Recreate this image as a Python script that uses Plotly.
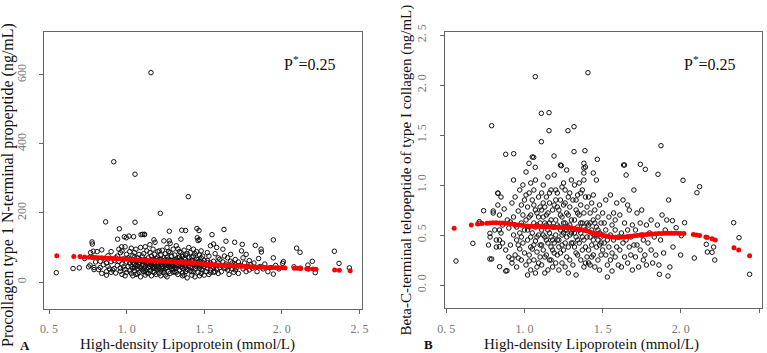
import plotly.graph_objects as go

# ---------------- data ----------------
# Panel A: HDL (mmol/L) vs PINP (ng/mL), as (hdl, pinp) pairs
points_a = [
    (0.78,72),(0.79,42),(0.79,36),(0.80,58),(0.81,88),(0.82,36),(0.83,42),(0.83,60),(0.84,93),(0.84,25),
    (0.85,50),(0.86,66),(0.87,20),(0.87,30),(0.87,55),(0.88,45),(0.88,76),(0.89,38),(0.90,88),(0.90,59),(0.90,28),
    (0.91,35),(0.92,39),(0.93,26),(0.93,70),(0.94,48),(0.95,60),(0.95,95),(0.96,85),(0.96,31),(0.97,52),(0.97,22),
    (0.98,67),(0.98,44),(0.99,102),(0.99,36),(1.00,58),(1.00,80),(1.00,28),(0.985,131),(0.998,128),(0.96,40),
    (0.94,75),(0.92,62),(0.99,18),(0.97,90),
    (1.01,45),(1.01,70),(1.02,32),(1.02,88),(1.02,55),(1.03,25),(1.03,63),(1.03,98),(1.04,40),(1.04,76),(1.04,18),
    (1.05,52),(1.05,85),(1.05,33),(1.06,60),(1.06,95),(1.06,22),(1.07,47),(1.07,70),(1.07,38),(1.08,56),(1.08,80),
    (1.08,28),(1.09,42),(1.09,65),(1.09,100),(1.09,15),(1.10,50),(1.10,75),(1.10,35),(1.015,133),(1.103,138),
    (1.116,138),(1.06,48),(1.04,57),(1.02,66),(1.08,44),(1.05,72),(1.07,24),(1.03,46),
    (1.11,58),(1.11,30),(1.11,82),(1.12,45),(1.12,65),(1.12,20),(1.13,52),(1.13,90),(1.13,36),(1.14,70),(1.14,42),
    (1.14,25),(1.15,60),(1.15,85),(1.15,33),(1.16,48),(1.16,75),(1.16,18),(1.17,55),(1.17,95),(1.17,40),(1.18,62),
    (1.18,28),(1.18,80),(1.19,46),(1.19,68),(1.19,22),(1.20,54),(1.20,88),(1.20,36),(1.176,122),(1.183,115),
    (1.12,102),(1.15,44),(1.17,66),(1.13,58),(1.19,38),(1.11,50),(1.14,56),(1.16,62),(1.18,50),(1.20,72),(1.13,26),
    (1.17,30),(1.15,108),
    (1.21,40),(1.21,65),(1.21,25),(1.22,52),(1.22,78),(1.22,32),(1.23,60),(1.23,92),(1.23,45),(1.24,119),(1.24,35),
    (1.24,70),(1.25,50),(1.25,82),(1.25,20),(1.26,58),(1.26,42),(1.26,100),(1.27,66),(1.27,30),(1.27,48),(1.28,112),
    (1.28,55),(1.28,85),(1.28,25),(1.29,62),(1.29,38),(1.29,75),(1.30,46),(1.30,95),(1.30,28),(1.275,119),(1.275,147),
    (1.22,58),(1.24,56),(1.26,72),(1.23,38),(1.25,64),(1.27,88),(1.29,50),(1.21,90),(1.30,58),(1.22,18),(1.26,15),
    (1.28,44),
    (1.31,52),(1.31,78),(1.31,30),(1.32,60),(1.32,40),(1.32,105),(1.33,48),(1.33,70),(1.33,22),(1.34,56),(1.34,88),
    (1.34,35),(1.35,64),(1.35,44),(1.35,124),(1.36,50),(1.36,75),(1.36,26),(1.37,58),(1.37,92),(1.37,38),(1.38,66),
    (1.38,149),(1.38,30),(1.39,54),(1.39,82),(1.39,12),(1.40,46),(1.40,70),(1.40,100),(1.355,150),(1.36,18),(1.32,66),
    (1.34,48),(1.38,42),(1.40,60),(1.33,96),(1.37,20),(1.31,42),(1.39,36),(1.35,85),(1.36,56),(1.38,78),(1.34,72),
    (1.32,28),
    (1.41,55),(1.41,85),(1.41,32),(1.42,62),(1.42,42),(1.42,20),(1.43,50),(1.43,75),(1.43,95),(1.44,58),(1.44,38),
    (1.44,15),(1.45,66),(1.45,45),(1.45,88),(1.46,52),(1.46,28),(1.46,120),(1.47,60),(1.47,40),(1.47,78),(1.48,48),
    (1.48,25),(1.48,70),(1.49,56),(1.49,35),(1.50,62),(1.50,44),(1.50,20),(1.453,155),(1.466,149),(1.468,123),
    (1.455,128),(1.42,72),(1.44,82),(1.46,65),(1.48,90),(1.43,30),(1.47,18),(1.49,75),
    (1.51,50),(1.51,30),(1.52,62),(1.52,40),(1.53,75),(1.53,22),(1.54,55),(1.54,35),(1.55,45),(1.55,137),(1.56,60),
    (1.56,28),(1.57,48),(1.57,82),(1.58,38),(1.58,100),(1.59,55),(1.59,25),(1.60,42),(1.60,66),(1.52,85),(1.54,105),
    (1.57,30),(1.59,70),(1.56,110),
    (1.61,48),(1.61,30),(1.62,58),(1.627,152),(1.63,40),(1.63,75),(1.64,52),(1.64,118),(1.65,35),(1.65,70),(1.66,45),
    (1.66,22),(1.67,60),(1.67,80),(1.68,38),(1.68,55),(1.69,28),(1.69,46),(1.70,65),(1.70,35),(1.696,115),(1.62,95),
    (1.71,42),(1.72,58),(1.72,25),(1.73,48),(1.74,90),(1.745,109),(1.75,38),(1.75,70),(1.76,55),(1.77,30),(1.77,80),
    (1.78,45),(1.79,35),(1.79,62),(1.80,50),
    (1.81,40),(1.82,55),(1.829,106),(1.84,30),(1.85,68),(1.86,45),(1.866,95),(1.868,87),(1.88,38),(1.89,52),(1.91,30),
    (1.93,42),(1.945,70),(1.945,122),(1.945,23),(1.96,48),(1.98,38),(2.005,54),(2.01,59),
    (1.157,606),(0.917,348),(1.054,312),(1.397,247),(1.217,199),(0.865,174),(1.054,173),(0.953,154),(0.942,124),
    (1.045,131),(1.093,137),(1.114,137),(0.777,116),(0.779,110),(0.968,102),(0.547,27),(0.655,39),(0.695,41),
    (0.73,68),(0.755,44),(0.764,49),(0.768,85),(0.785,89),(2.078,44),(2.095,98),(2.117,86),(2.168,49),(2.196,60),
    (2.215,27),(2.338,89),(2.368,54),(2.435,41),(2.12,40),(2.17,38),
    (1.05,42),(1.08,62),(1.11,38),(1.14,50),(1.17,44),(1.20,46),(1.23,52),(1.26,48),(1.29,44),(1.32,48),
    (1.35,52),(1.38,50),(1.41,44),(1.44,50),(1.47,46),(1.50,52),(1.53,48),(1.56,42),(1.12,32),(1.18,40),
    (1.24,28),(1.30,36),(1.36,40),(1.42,30),(1.48,36),(1.54,28),(1.10,60),(1.16,56),(1.22,66),(1.28,62),
    (1.34,62),(1.40,54),(1.46,58),(1.52,56),(1.58,48),(1.64,40),(1.70,50),(1.25,40),(1.31,64),(1.37,68),
]

# Panel B: HDL (mmol/L) vs beta-CTX (ng/mL), as (hdl, ctx) pairs
points_b = [
    (0.77,0.40),(0.78,0.48),(0.79,0.26),(0.80,0.74),(0.80,0.72),(0.81,0.55),(0.82,0.45),(0.82,0.38),(0.83,0.92),
    (0.83,0.80),(0.84,0.70),(0.84,0.55),(0.85,0.88),(0.85,0.52),(0.86,0.60),(0.86,0.42),(0.87,0.76),(0.88,0.35),
    (0.88,0.14),(0.89,0.65),(0.90,0.28),(0.90,0.57),
    (0.91,0.63),(0.91,0.40),(0.92,0.82),(0.92,0.22),(0.93,0.50),(0.93,0.68),(0.93,1.05),(0.94,0.30),(0.94,0.88),
    (0.95,0.45),(0.95,0.18),(0.95,0.58),(0.96,0.74),(0.96,0.27),(0.97,0.52),(0.97,0.95),(0.97,0.36),(0.98,0.62),
    (0.98,0.25),(0.98,0.80),(0.99,0.42),(0.99,0.70),(0.99,1.00),(1.00,0.55),(1.00,0.32),(1.00,0.85),(0.96,0.40),
    (0.94,0.60),(0.98,0.48),(0.92,0.26),
    (1.01,0.65),(1.01,0.20),(1.01,1.13),(1.02,0.45),(1.02,0.78),(1.02,0.10),(1.03,0.58),(1.03,0.92),(1.03,0.30),
    (1.04,0.38),(1.04,0.70),(1.04,0.15),(1.05,0.52),(1.05,0.85),(1.05,1.28),(1.06,0.62),(1.06,0.25),(1.06,0.95),
    (1.07,0.44),(1.07,0.75),(1.07,1.05),(1.08,0.33),(1.08,0.60),(1.08,0.18),(1.09,0.50),(1.09,0.88),(1.09,0.68),
    (1.10,0.40),(1.10,0.28),(1.10,0.78),(1.02,0.55),(1.04,0.48),(1.06,0.40),(1.08,0.72),(1.03,0.24),(1.05,0.36),
    (1.07,0.58),(1.09,0.22),(1.01,0.90),(1.06,0.80),(1.04,1.02),(1.08,0.48),(1.10,0.62),(1.03,0.68),(1.07,0.12),
    (1.11,0.55),(1.11,0.92),(1.11,0.20),(1.12,0.68),(1.12,0.35),(1.12,1.00),(1.13,0.48),(1.13,0.78),(1.13,0.12),
    (1.14,0.60),(1.14,0.30),(1.14,0.88),(1.15,0.42),(1.15,0.72),(1.15,1.08),(1.16,0.52),(1.16,0.25),(1.16,0.82),
    (1.17,0.65),(1.17,0.38),(1.17,0.95),(1.18,0.45),(1.18,0.18),(1.18,0.75),(1.19,0.58),(1.19,0.32),(1.19,1.10),
    (1.20,0.50),(1.20,0.85),(1.20,0.22),(1.12,0.50),(1.14,0.45),(1.16,0.62),(1.18,0.58),(1.13,0.28),(1.15,0.55),
    (1.17,0.48),(1.19,0.80),(1.11,0.40),(1.16,0.92),(1.14,0.70),(1.12,0.82),(1.18,0.35),(1.20,0.65),(1.15,0.15),
    (1.17,0.25),(1.13,0.62),(1.19,0.42),(1.11,0.75),(1.20,0.95),
    (1.21,0.60),(1.21,0.30),(1.21,0.92),(1.22,0.45),(1.22,0.75),(1.22,0.15),(1.23,0.55),(1.23,0.85),(1.23,1.20),
    (1.24,0.40),(1.24,0.68),(1.24,0.22),(1.25,0.52),(1.25,0.80),(1.25,0.35),(1.26,0.62),(1.26,0.18),(1.26,0.95),
    (1.27,0.48),(1.27,0.72),(1.27,1.15),(1.28,0.38),(1.28,0.58),(1.28,0.88),(1.29,0.50),(1.29,0.25),(1.29,0.78),
    (1.30,0.42),(1.30,0.65),(1.30,1.05),(1.22,0.58),(1.24,0.50),(1.26,0.42),(1.28,0.70),(1.23,0.32),(1.25,0.62),
    (1.27,0.28),(1.29,0.60),(1.21,0.78),(1.26,0.82),(1.24,0.98),(1.28,0.12),(1.30,0.52),(1.22,0.38),(1.25,1.02),
    (1.27,0.55),(1.23,0.70),(1.29,0.92),(1.26,0.55),(1.21,0.45),
    (1.31,0.55),(1.31,0.85),(1.31,0.20),(1.32,0.65),(1.32,0.38),(1.32,1.00),(1.33,0.48),(1.33,0.75),(1.33,0.10),
    (1.34,0.58),(1.34,0.30),(1.34,0.90),(1.35,0.42),(1.35,0.70),(1.35,1.02),(1.36,0.52),(1.36,0.25),(1.36,0.80),
    (1.37,0.62),(1.37,0.35),(1.37,0.95),(1.38,0.45),(1.38,0.18),(1.38,0.72),(1.39,0.55),(1.39,0.88),(1.39,1.18),
    (1.40,0.48),(1.40,0.28),(1.40,0.78),(1.32,0.52),(1.34,0.45),(1.36,0.62),(1.38,0.58),(1.33,0.32),(1.35,0.55),
    (1.37,0.48),(1.39,0.38),(1.31,0.42),(1.36,0.92),(1.38,1.05),(1.34,0.72),(1.40,0.62),(1.33,0.85),(1.39,0.22),
    (1.41,0.60),(1.41,0.35),(1.41,0.88),(1.42,0.48),(1.42,0.72),(1.42,0.20),(1.43,0.55),(1.43,0.82),(1.43,0.40),
    (1.44,0.65),(1.44,0.30),(1.44,1.12),(1.45,0.50),(1.45,0.75),(1.45,0.18),(1.46,0.58),(1.46,0.38),(1.46,1.05),
    (1.47,0.45),(1.47,0.68),(1.47,0.25),(1.48,0.52),(1.48,0.80),(1.48,0.15),(1.49,0.42),(1.49,0.62),(1.49,0.30),
    (1.50,0.50),(1.50,0.35),(1.50,0.72),(1.42,0.62),(1.44,0.45),(1.46,0.50),(1.48,0.40),(1.43,0.28),(1.45,0.62),
    (1.47,0.55),(1.49,0.48),(1.41,0.22),(1.44,0.90),
    (1.51,0.42),(1.51,0.62),(1.52,0.30),(1.52,0.55),(1.53,0.20),(1.53,0.45),(1.53,0.08),(1.54,0.68),(1.54,0.38),
    (1.55,0.50),(1.55,0.25),(1.55,0.90),(1.56,0.60),(1.56,0.32),(1.57,0.45),(1.57,0.72),(1.58,0.28),(1.58,0.55),
    (1.59,0.38),(1.59,0.82),(1.60,0.48),(1.60,0.20),(1.52,0.85),(1.56,0.14),(1.58,0.65),
    (1.61,0.35),(1.61,0.70),(1.62,0.52),(1.62,0.18),(1.63,0.42),(1.63,0.85),(1.64,0.62),(1.64,0.28),(1.65,0.45),
    (1.65,1.10),(1.66,0.55),(1.66,0.22),(1.67,0.38),(1.67,0.75),(1.68,0.48),(1.68,0.30),(1.69,0.60),(1.69,0.15),
    (1.70,0.40),(1.70,0.95),(1.64,1.20),(1.66,0.80),
    (1.71,0.55),(1.71,0.28),(1.72,0.72),(1.72,0.40),(1.73,0.18),(1.74,0.62),(1.74,0.35),(1.75,0.50),(1.75,0.75),
    (1.76,0.25),(1.76,0.45),(1.77,0.30),(1.78,0.60),(1.78,0.20),(1.79,0.42),(1.80,0.52),(1.741,1.207),(1.773,1.157),
    (1.81,0.35),(1.81,0.65),(1.82,0.22),(1.83,0.48),(1.84,0.30),(1.85,0.60),(1.854,1.107),(1.86,0.20),(1.863,0.107),
    (1.87,0.45),(1.873,1.393),(1.88,0.70),(1.89,0.32),(1.90,0.55),(1.91,0.65),(1.918,0.09),(1.922,0.85),(1.93,0.18),
    (1.946,0.643),(1.95,0.38),(1.97,0.573),(1.999,0.30),(2.003,0.493),(2.014,1.047),(2.024,0.623),
    (1.069,2.083),(1.406,2.123),(1.108,1.717),(1.157,1.723),(0.79,1.593),(1.157,1.543),(1.278,1.543),(1.317,1.583),
    (1.108,1.433),(0.88,1.307),(0.931,1.313),(1.317,1.333),(1.387,1.343),(1.189,1.29),(1.059,1.277),(1.029,1.217),
    (1.069,1.177),(1.38,1.217),(1.38,1.17),(1.38,1.12),(1.466,1.257),(1.236,1.193),(1.634,1.2),(2.086,0.27),
    (2.103,0.923),(2.12,0.983),(2.163,0.407),(2.17,0.33),(2.2,0.327),(2.217,0.25),(2.21,0.38),(2.338,0.623),
    (2.372,0.473),(2.44,0.107),(0.562,0.24),(0.67,0.417),(0.711,0.633),(0.711,0.617),(0.739,0.743),(0.779,0.517),
    (0.779,0.26),(0.83,0.917),(0.841,0.183),(0.888,0.143),(0.84,0.383),(0.84,0.45),
]

# Smoothed fit (red dots)
smooth_x = [0.55,0.66,0.70,0.73,
            0.76,0.78,0.80,0.82,0.84,0.86,0.88,0.90,0.92,0.94,0.96,0.98,1.00,1.02,1.04,1.06,1.08,1.10,
            1.12,1.14,1.16,1.18,1.20,1.22,1.24,1.26,1.28,1.30,1.32,1.34,1.36,1.38,1.40,1.42,1.44,1.46,
            1.48,1.50,1.52,1.54,1.56,1.58,1.60,1.62,1.64,1.66,1.68,1.70,1.72,1.74,1.76,1.78,1.80,1.82,
            1.84,1.86,1.88,1.90,1.92,1.94,1.96,1.98,2.00,2.02,
            2.08,2.10,2.12,2.16,2.17,2.20,2.22,2.34,2.37,2.44]
smooth_a = [76,74,73.5,72.5,
            72,71.5,71,70.5,70,69.5,69,68.5,68,67.5,67,66.5,66,65.5,65,64.5,64,63.5,
            63,62.5,62,61.5,61,60.5,60,59.5,59,58.5,58,57.5,57,56.5,56,55.5,55,54,
            53,52,51,50.5,50,49.5,49,48.5,48,47.5,47,46.5,46,45.5,45,44.5,44,43.5,
            43,42.8,42.5,42.2,42,41.8,41.5,41.2,41,40.8,
            40,39.5,39,38.5,38,37.5,37,34.5,34,32.5]
smooth_b = [0.567,0.600,0.610,0.615,
            0.618,0.620,0.622,0.622,0.621,0.620,0.618,0.615,0.611,0.606,0.601,0.597,0.593,0.590,0.588,0.586,0.584,0.583,
            0.582,0.581,0.580,0.579,0.578,0.577,0.576,0.574,0.572,0.569,0.565,0.560,0.554,0.547,0.539,0.530,0.521,0.512,
            0.504,0.497,0.490,0.484,0.480,0.477,0.476,0.477,0.480,0.484,0.488,0.492,0.496,0.499,0.502,0.505,0.508,0.510,
            0.512,0.514,0.516,0.517,0.518,0.518,0.518,0.517,0.516,0.514,
            0.505,0.500,0.495,0.480,0.475,0.462,0.450,0.373,0.350,0.293]

x_ticks = [0.5, 1.0, 1.5, 2.0, 2.5]
x_tick_text = ["0.\u00a05", "1.\u00a00", "1.\u00a05", "2.\u00a00", "2.\u00a05"]
ya_ticks = [0, 200, 400, 600]
ya_tick_text = ["0", "200", "400", "600"]
yb_ticks = [0.0, 0.5, 1.0, 1.5, 2.0, 2.5]
yb_tick_text = ["0.\u00a00", "0.\u00a05", "1.\u00a00", "1.\u00a05", "2.\u00a00", "2.\u00a05"]

# ---------------- figure ----------------
W, H = 767, 353
SERIF = "Liberation Serif"

def fx(p):
    return p / W

def fy(p):
    return 1 - p / H

hdl_a = [p[0] for p in points_a]
pinp_a = [p[1] for p in points_a]
hdl_b = [p[0] for p in points_b]
ctx_b = [p[1] for p in points_b]

fig = go.Figure()
open_marker = dict(symbol="circle-open", size=4.5, color="#111111", line=dict(width=1, color="#111111"))
red_marker = dict(symbol="circle", size=5, color="#ff0000", line=dict(width=0))

fig.add_trace(go.Scatter(x=hdl_a, y=pinp_a, mode="markers", marker=open_marker, xaxis="x", yaxis="y"))
fig.add_trace(go.Scatter(x=smooth_x, y=smooth_a, mode="markers", marker=red_marker, xaxis="x", yaxis="y"))
fig.add_trace(go.Scatter(x=hdl_b, y=ctx_b, mode="markers", marker=open_marker, xaxis="x2", yaxis="y2"))
fig.add_trace(go.Scatter(x=smooth_x, y=smooth_b, mode="markers", marker=red_marker, xaxis="x2", yaxis="y2"))

axis_common = dict(
    showgrid=False, zeroline=False, showline=True, mirror=True,
    linecolor="#666666", linewidth=1, ticks="outside", ticklen=4,
    tickcolor="#666666", tickfont=dict(family=SERIF, size=12, color="#777777"),
    automargin=False, fixedrange=True,
)

fig.update_layout(
    width=W, height=H,
    margin=dict(l=0, r=0, t=0, b=0),
    paper_bgcolor="white", plot_bgcolor="white",
    showlegend=False,
    font=dict(family=SERIF),
    xaxis=dict(domain=[fx(44.3), fx(361.7)], range=[0.4697, 2.5142], anchor="y",
               tickvals=x_ticks, ticktext=x_tick_text, ticklabelstandoff=5, **axis_common),
    yaxis=dict(domain=[fy(309), fy(32)], range=[-78.1, 723.6], anchor="x",
               tickvals=ya_ticks, ticktext=ya_tick_text, tickangle=-90, ticklabelstandoff=9, **axis_common),
    xaxis2=dict(domain=[fx(444.7), fx(762)], range=[0.4898, 2.5192], anchor="y2",
                tickvals=x_ticks, ticktext=x_tick_text, ticklabelstandoff=5, **axis_common),
    yaxis2=dict(domain=[fy(308.3), fy(32.3)], range=[-0.233, 2.527], anchor="x2",
                tickvals=yb_ticks, ticktext=yb_tick_text, tickangle=-90, ticklabelstandoff=9, **axis_common),
)

title_font = dict(family=SERIF, size=15, color="#111111")
ann = []
ann.append(dict(text="High-density Lipoprotein (mmol/L)", x=fx(187), y=fy(344), xanchor="center", yanchor="middle", font=title_font))
ann.append(dict(text="High-density Lipoprotein (mmol/L)", x=fx(591), y=fy(344), xanchor="center", yanchor="middle", font=title_font))
ann.append(dict(text="Procollagen type 1 N-terminal propeptide (ng/mL)", textangle=-90, x=fx(8), y=fy(185),
                xanchor="center", yanchor="middle", font=dict(family=SERIF, size=16, color="#111111")))
ann.append(dict(text="Beta-C-terminal telopeptide of type I collagen (ng/mL)", textangle=-90, x=fx(406), y=fy(337),
                xanchor="center", yanchor="bottom", font=title_font))
ann.append(dict(text="<b>A</b>", x=fx(25), y=fy(345), xanchor="center", yanchor="middle",
                font=dict(family=SERIF, size=13, color="#111111")))
ann.append(dict(text="<b>B</b>", x=fx(429), y=fy(344), xanchor="center", yanchor="middle",
                font=dict(family=SERIF, size=13, color="#111111")))
ann.append(dict(text="P<sup>*</sup>=0.25", x=fx(310), y=fy(63), xanchor="center", yanchor="middle",
                font=dict(family=SERIF, size=16, color="#111111")))
ann.append(dict(text="P<sup>*</sup>=0.25", x=fx(710), y=fy(63), xanchor="center", yanchor="middle",
                font=dict(family=SERIF, size=16, color="#111111")))
for a in ann:
    a.update(xref="paper", yref="paper", showarrow=False)
fig.update_layout(annotations=ann)

fig.write_html("out.html")
